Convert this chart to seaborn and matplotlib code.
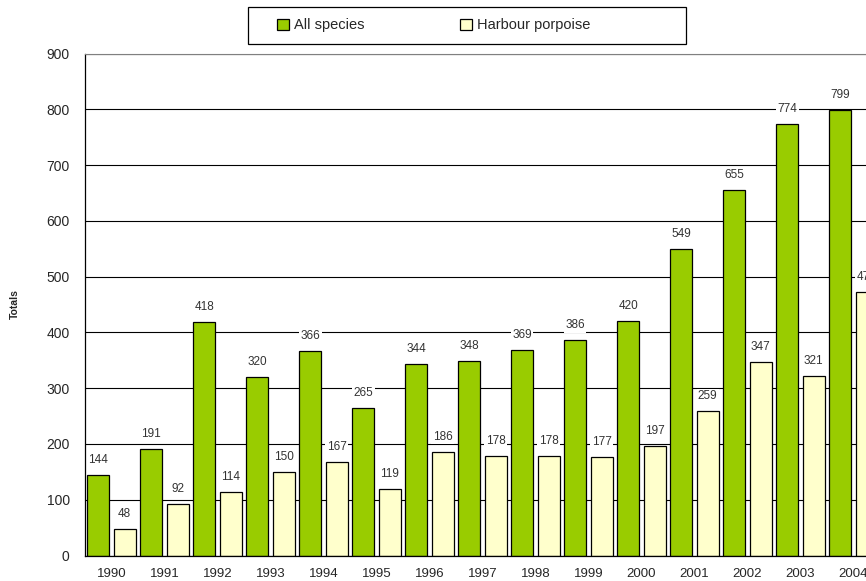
import numpy as np
import pandas as pd
import matplotlib
matplotlib.use('Agg')
import matplotlib.pyplot as plt
import seaborn as sns

# data
years = ['1990', '1991', '1992', '1993', '1994', '1995', '1996', '1997',
         '1998', '1999', '2000', '2001', '2002', '2003', '2004']
all_species = [144, 191, 418, 320, 366, 265, 344, 348, 369, 386, 420, 549, 655, 774, 799]
harbour_porpoise = [48, 92, 114, 150, 167, 119, 186, 178, 178, 177, 197, 259, 347, 321, 472]
series = ['All species', 'Harbour porpoise']
colors = ['#99CC00', '#FFFFCC']

df = pd.DataFrame({
    'year': years * 2,
    'value': all_species + harbour_porpoise,
    'series': [series[0]] * len(years) + [series[1]] * len(years),
})

sns.set_style('white')
plt.rcParams['font.family'] = ['Liberation Sans', 'DejaVu Sans']

W, H = 866, 581
fig = plt.figure(figsize=(W / 100, H / 100), dpi=100)
# axes runs off the right edge, as in the reference
ax = fig.add_axes([85 / W, 25.5 / H, 795 / W, 502 / H])

sns.barplot(data=df, x='year', y='value', hue='series', hue_order=series,
            palette=colors, saturation=1, edgecolor='black', linewidth=0.9,
            width=1.0, gap=0.16, ax=ax, legend=False)

for cont in ax.containers:
    ax.bar_label(cont, padding=6.5, fontsize=8.5, color='#333333',
                 bbox=dict(facecolor='white', edgecolor='none', pad=1.0))

ax.set_ylim(0, 900)
ax.set_xlim(-0.5, len(years) - 0.5)
ax.set_yticks(np.arange(0, 901, 100))
ax.yaxis.grid(True, color='black', linewidth=0.8)
ax.set_axisbelow(True)

ax.set_xticks(np.arange(len(years)))
ax.set_xticklabels(years)
ax.set_xticks(np.arange(-0.5, len(years)), minor=True)
ax.tick_params(axis='x', which='major', length=0, pad=9, labelsize=9.5)
ax.tick_params(axis='x', which='minor', length=4, width=0.8, direction='out', color='black')
ax.tick_params(axis='y', length=6, width=0.8, direction='out', color='black', pad=5, labelsize=10)

ax.set_xlabel('')
ax.set_ylabel('')
for s in ['left', 'bottom']:
    ax.spines[s].set_color('black')
    ax.spines[s].set_linewidth(0.9)
ax.spines['top'].set_color('#808080')
ax.spines['top'].set_linewidth(0.8)
ax.spines['right'].set_visible(False)

fig.text(15 / W, 1 - 304 / H, 'Totals', rotation=90, fontsize=7.5,
         fontweight='bold', ha='center', va='center')

# legend: frame drawn by hand, entries placed to line up with the reference
leg_fs = 10.5
frame = plt.Rectangle((248 / W, 1 - 44 / H), 438 / W, 37 / H, transform=fig.transFigure,
                      facecolor='white', edgecolor='black', linewidth=0.9)
fig.patches.append(frame)

renderer = fig.canvas.get_renderer()
probe = fig.text(0, 0, series[0], fontsize=leg_fs)
txt_w = probe.get_window_extent(renderer).width
probe.remove()
em = leg_fs * 100 / 72
hl, htp = 0.85, 0.3
col_px = 460 - 277 - hl * em - htp * em - txt_w

handles = [plt.Rectangle((0, 0), 1, 1, facecolor=c, edgecolor='black', linewidth=0.9)
           for c in colors]
leg = fig.legend(handles, series, ncol=2, loc='center left',
                 bbox_to_anchor=(277 / W, 1 - 25.5 / H), fontsize=leg_fs,
                 frameon=False, borderpad=0, borderaxespad=0,
                 handlelength=hl, handleheight=0.85, handletextpad=htp,
                 columnspacing=col_px / em)

fig.savefig('out.png', dpi=100)
